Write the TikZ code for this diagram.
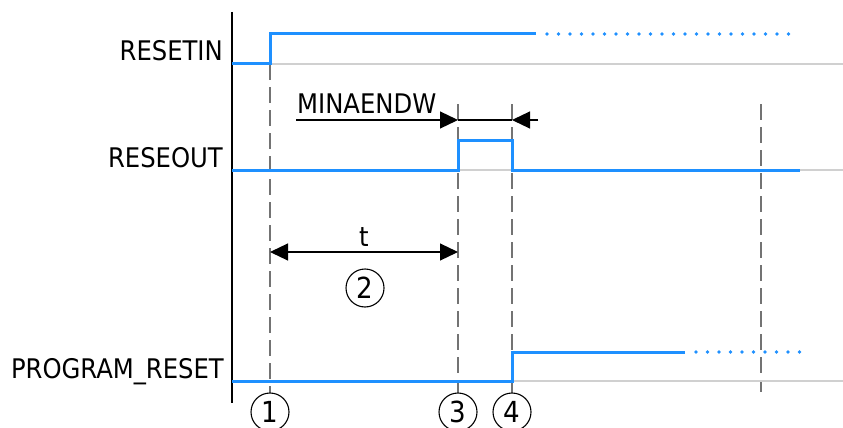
\documentclass[tikz,border=0pt]{standalone}
\usepackage{fontspec}
\setmainfont{DejaVu Sans Condensed}
\usetikzlibrary{arrows.meta}
\definecolor{sig}{RGB}{30,144,255}
\definecolor{baseclr}{RGB}{208,208,208}
\definecolor{guide}{RGB}{115,115,115}
\begin{document}
\begin{tikzpicture}[x=1pt,y=-1pt,
  sigline/.style={draw=sig,line width=3pt},
  sigdot/.style={draw=sig,line width=3.6pt,line cap=round,dash pattern=on 0pt off 11.5pt},
  baseln/.style={draw=baseclr,line width=1.8pt},
  guideln/.style={draw=guide,line width=1.6pt,dash pattern=on 16pt off 7pt},
  lbl/.style={font=\fontsize{27}{27}\selectfont,inner sep=0pt},
  num/.style={circle,draw,line width=1.1pt,minimum size=38pt,inner sep=0pt,font=\fontsize{29}{29}\selectfont},
  dimln/.style={draw=black,line width=1.2pt},
  tip/.style={-{Triangle[length=18pt,width=17pt]}}
]
\useasboundingbox (0,0) rectangle (843,428);
% axis
\coordinate (axT) at (232,12);
\coordinate (axB) at (232,403);
% dashed guides
\coordinate (g1t) at (270,64);   \coordinate (g1b) at (270,393);
\coordinate (g3t) at (458,104);  \coordinate (g3b) at (458,393);
\coordinate (g4t) at (512,104);  \coordinate (g4b) at (512,393);
\coordinate (g5t) at (761,104);  \coordinate (g5b) at (761,392);
\draw[guideln] (g1t) -- (g1b);
\draw[guideln] (g3t) -- (g3b);
\draw[guideln] (g4t) -- (g4b);
\draw[guideln] (g5t) -- (g5b);
% baselines
\coordinate (b1a) at (232,64);  \coordinate (b1b) at (843,64);
\coordinate (b2a) at (232,170); \coordinate (b2b) at (843,170);
\coordinate (b3a) at (232,381); \coordinate (b3b) at (843,381);
\draw[baseln] (b1a) -- (b1b);
\draw[baseln] (b2a) -- (b2b);
\draw[baseln] (b3a) -- (b3b);
\draw[line width=1.3pt] (axT) -- (axB);
% labels
\node[lbl,anchor=base east] (lin) at (223,61) {RESETIN};
\node[lbl,anchor=base east] (lout) at (223,167) {RESEOUT};
\node[lbl,anchor=base east] (lprg) at (224,378) {PROGRAM\_RESET};
% RESETIN signal
\draw[sigline] (232,64) -- (270,64) -- (270,34) -- (536,34);
\draw[sigdot] (547,34) -- (791,34);
% RESEOUT signal
\draw[sigline] (232,170) -- (458,170) -- (458,140) -- (512,140) -- (512,170) -- (800,170);
% PROGRAM_RESET signal
\draw[sigline] (232,381) -- (512,381) -- (512,352) -- (685,352);
\draw[sigdot] (696,352) -- (800,352);
% MINAENDW dimension
\coordinate (mA) at (296,120);
\coordinate (mB) at (458,120);
\coordinate (mC) at (512,120);
\coordinate (mD) at (538,120);
\draw[dimln,tip] (mA) -- (mB);
\draw[dimln] (mB) -- (mC);
\draw[dimln,tip] (mD) -- (mC);
\node[lbl,anchor=base west] (mtxt) at (297,113) {MINAENDW};
% t dimension
\coordinate (tA) at (270,252);
\coordinate (tB) at (458,252);
\draw[dimln,{Triangle[length=18pt,width=17pt]}-{Triangle[length=18pt,width=17pt]}] (tA) -- (tB);
\node[lbl,anchor=base] (ttxt) at (364,246) {t};
% numbers
\node[num] (n2) at (365,288) {2};
\node[num] (n1) at (270,412) {1};
\node[num] (n3) at (458,412) {3};
\node[num] (n4) at (512,412) {4};
\end{tikzpicture}
\end{document}
